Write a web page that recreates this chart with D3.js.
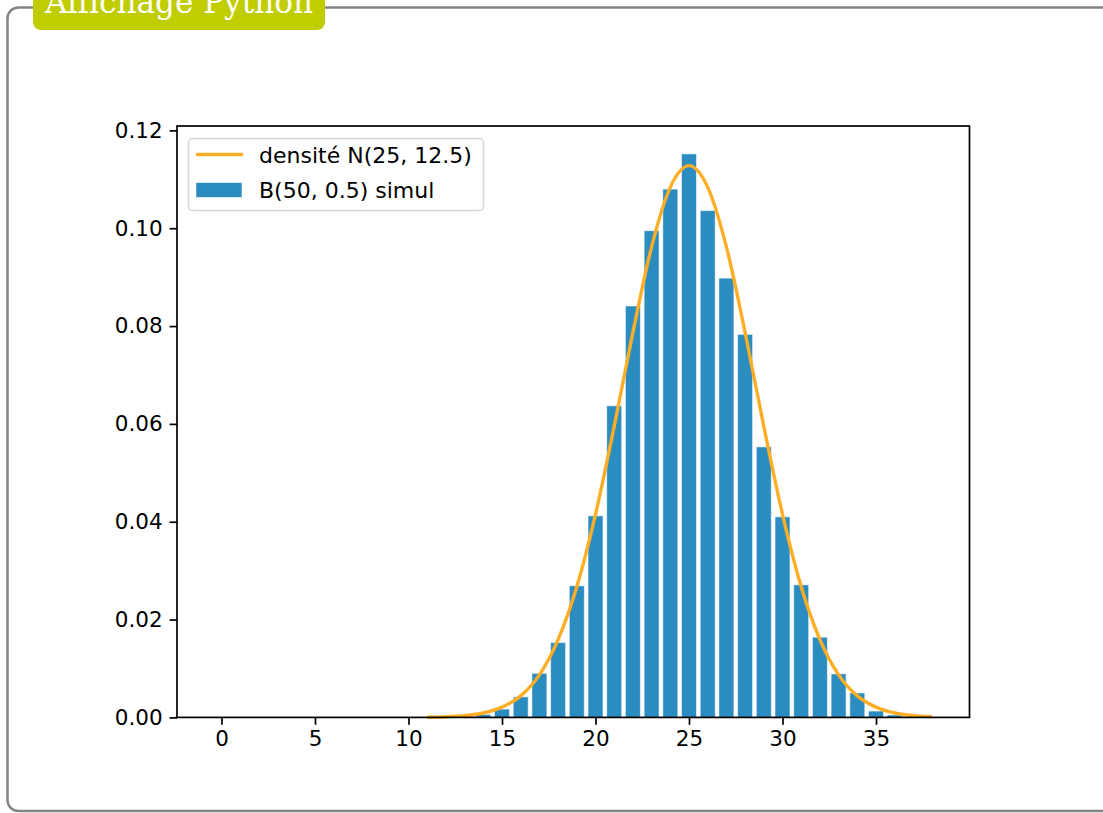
<!DOCTYPE html>
<html lang="fr">
<head>
    <meta charset="UTF-8">
    <title>Affichage Python</title>
    <script src="https://cdnjs.cloudflare.com/ajax/libs/d3/7.8.5/d3.min.js"></script>
    <style>
        html, body { margin: 0; padding: 0; background: #fff; }
        svg { display: block; }
        .tick text { font-family: "DejaVu Sans", sans-serif; font-size: 21.5px; fill: #000; }
    </style>
</head>
<body>
    <div id="chart"></div>

    <script>
        // simulated frequencies of B(50, 0.5)
        const ks = [14, 15, 16, 17, 18, 19, 20, 21, 22, 23, 24, 25, 26, 27, 28, 29, 30, 31, 32, 33, 34, 35, 36, 37];
        const freqs = [0.0006, 0.0017, 0.0042, 0.0090, 0.0153, 0.0269, 0.0412, 0.0637, 0.0841, 0.0995, 0.1080, 0.1152,
                       0.1036, 0.0898, 0.0783, 0.0553, 0.0410, 0.0271, 0.0164, 0.0089, 0.0050, 0.0013, 0.0005, 0.0002];

        // density curve N(25, 12.5)
        const densX = [11, 12, 13, 14, 15, 16, 17, 18, 19, 20, 21, 22, 23, 24, 25,
                       26, 27, 28, 29, 30, 31, 32, 33, 34, 35, 36, 37, 38];
        const densY = [0.00004, 0.00013, 0.00036, 0.0009, 0.0021, 0.0044, 0.0087, 0.0159, 0.0267, 0.0415, 0.0595, 0.0787, 0.0962, 0.1084, 0.1128,
                       0.1084, 0.0962, 0.0787, 0.0595, 0.0415, 0.0267, 0.0159, 0.0087, 0.0044, 0.0021, 0.0009, 0.00036, 0.00013];

        const xTicks = [0, 5, 10, 15, 20, 25, 30, 35];
        const yTicks = [0, 0.02, 0.04, 0.06, 0.08, 0.10, 0.12];

        const legendLabels = ["densité N(25, 12.5)", "B(50, 0.5) simul"];

        const width = 1103, height = 813;
        const lineColor = "#fdae26";
        const barColor = "#2b8cbf";

        const svg = d3.select("#chart").append("svg")
            .attr("width", width)
            .attr("height", height);

        // outer frame + title tab (the title is clipped at the top, as in the original)
        svg.append("rect")
            .attr("x", 7.5).attr("y", 7.5)
            .attr("width", 1120).attr("height", 803.5)
            .attr("rx", 11)
            .attr("fill", "none")
            .attr("stroke", "#848484")
            .attr("stroke-width", 2.5);

        svg.append("rect")
            .attr("x", 33).attr("y", -12)
            .attr("width", 292).attr("height", 42)
            .attr("rx", 8)
            .attr("fill", "#c0cd00");

        svg.append("text")
            .attr("x", 45).attr("y", 13)
            .attr("font-family", "'DejaVu Serif', serif")
            .attr("font-size", 32)
            .attr("textLength", 268)
            .attr("lengthAdjust", "spacingAndGlyphs")
            .attr("fill", "#fff")
            .text("Affichage Python");

        // plot area
        const plotLeft = 177, plotRight = 969.5, plotTop = 126, plotBottom = 717.4;

        const x = d3.scaleLinear().domain([-2.38, 40.0]).range([plotLeft, plotRight]);
        const y = d3.scaleLinear().domain([0, 0.1209]).range([plotBottom, plotTop]);

        const g = svg.append("g");

        // bars (width 0.8)
        g.selectAll("rect.bar")
            .data(ks)
            .enter()
            .append("rect")
            .attr("class", "bar")
            .attr("x", d => x(d - 0.4))
            .attr("width", d => x(d + 0.4) - x(d - 0.4))
            .attr("y", (d, i) => y(freqs[i]))
            .attr("height", (d, i) => y(0) - y(freqs[i]))
            .attr("fill", barColor)
            .attr("stroke", "rgba(255,255,255,0.55)")
            .attr("stroke-width", 1);

        // density line
        const line = d3.line()
            .x(d => x(d[0]))
            .y(d => y(d[1]))
            .curve(d3.curveMonotoneX);

        g.append("path")
            .datum(densX.map((v, i) => [v, densY[i]]))
            .attr("d", line)
            .attr("fill", "none")
            .attr("stroke", lineColor)
            .attr("stroke-width", 3.4);

        // axes
        const xAxis = svg.append("g")
            .attr("transform", `translate(0,${plotBottom})`)
            .call(d3.axisBottom(x).tickValues(xTicks).tickFormat(d3.format("d")).tickSize(7.4).tickPadding(6));

        const yAxis = svg.append("g")
            .attr("transform", `translate(${plotLeft},0)`)
            .call(d3.axisLeft(y).tickValues(yTicks).tickFormat(d3.format(".2f")).tickSize(7.4).tickPadding(7));

        [xAxis, yAxis].forEach(a => {
            a.select(".domain").remove();
            a.selectAll(".tick line").attr("stroke", "#000").attr("stroke-width", 1.7);
        });

        // spines
        svg.append("rect")
            .attr("x", plotLeft).attr("y", plotTop)
            .attr("width", plotRight - plotLeft).attr("height", plotBottom - plotTop)
            .attr("fill", "none")
            .attr("stroke", "#000")
            .attr("stroke-width", 1.7);

        // legend
        const lg = svg.append("g");
        lg.append("rect")
            .attr("x", 188.5).attr("y", 138.5)
            .attr("width", 295).attr("height", 72)
            .attr("rx", 4)
            .attr("fill", "rgba(255,255,255,0.8)")
            .attr("stroke", "#d6d6d6")
            .attr("stroke-width", 1.5);

        lg.append("line")
            .attr("x1", 196).attr("x2", 243)
            .attr("y1", 154.5).attr("y2", 154.5)
            .attr("stroke", lineColor)
            .attr("stroke-width", 3.4);

        lg.append("rect")
            .attr("x", 196).attr("y", 182.5)
            .attr("width", 46).attr("height", 15)
            .attr("fill", barColor)
            .attr("stroke", "rgba(255,255,255,0.55)");

        lg.selectAll("text.leg")
            .data(legendLabels)
            .enter()
            .append("text")
            .attr("class", "leg")
            .attr("x", 259)
            .attr("y", (d, i) => 162.5 + i * 35)
            .attr("font-family", "'DejaVu Sans', sans-serif")
            .attr("font-size", 22)
            .attr("fill", "#000")
            .text(d => d);
    </script>
</body>
</html>
